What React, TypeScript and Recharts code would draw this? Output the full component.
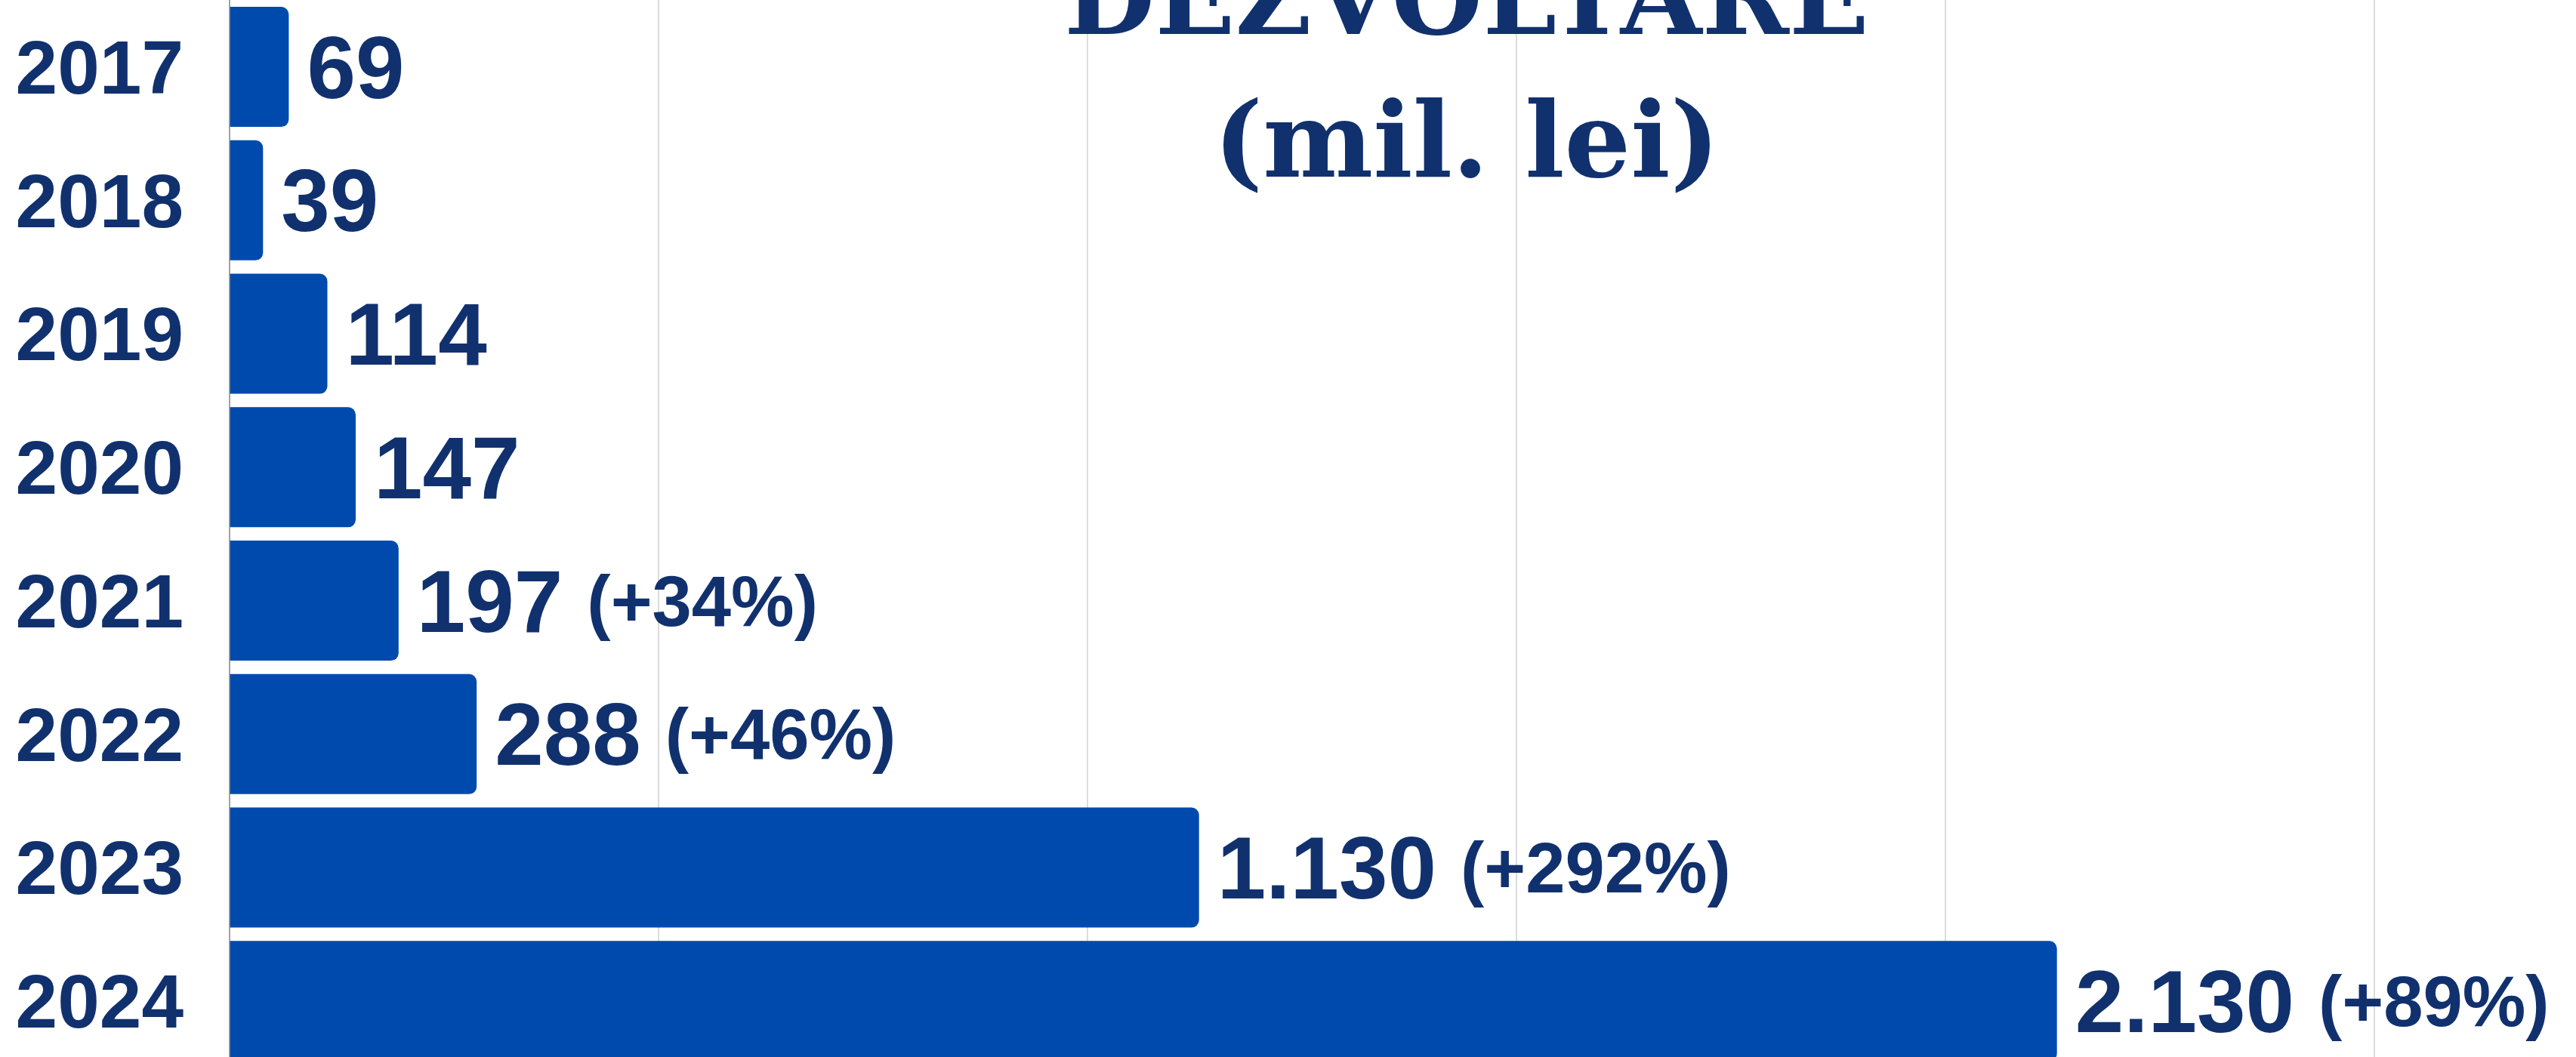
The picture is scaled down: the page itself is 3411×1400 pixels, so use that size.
import React from 'react';
import { BarChart, Bar, XAxis, YAxis, CartesianGrid, LabelList } from 'recharts';

const years = ['2017', '2018', '2019', '2020', '2021', '2022', '2023', '2024'];
const values = [69, 39, 114, 147, 197, 288, 1130, 2130];
const valueLabels = ['69', '39', '114', '147', '197', '288', '1.130', '2.130'];
const growthLabels = ['', '', '', '', '(+34%)', '(+46%)', '(+292%)', '(+89%)'];
const xTicks = [0, 500, 1000, 1500, 2000, 2500];
const titleLines = ['DEZVOLTARE', '(mil. lei)'];

const data = years.map((y, i) => ({ year: y, value: values[i] }));

const NAVY = '#11316e';
const BLUE = '#004aad';
const SANS = '"Liberation Sans", Arial, sans-serif';
const SERIF = '"DejaVu Serif", serif';

const YTick = (props: any) => {
  const { x, y, payload } = props;
  return (
    <text
      x={x}
      y={y}
      dy="0.355em"
      textAnchor="end"
      fill={NAVY}
      fontFamily={SANS}
      fontWeight={700}
      fontSize={100}
    >
      {payload.value}
    </text>
  );
};

const BarLabel = (props: any) => {
  const { x, y, width, height, index } = props;
  const nx = Number(x) + Number(width) + 24;
  const cy = Number(y) + Number(height) / 2;
  const g = growthLabels[index];
  return (
    <text x={nx} y={cy} fill={NAVY} fontFamily={SANS} fontWeight={700}>
      <tspan fontSize={116} dy={41}>
        {valueLabels[index]}
      </tspan>
      {g ? (
        <tspan fontSize={94} dx={32} dy={-8}>
          {g}
        </tspan>
      ) : null}
    </text>
  );
};

export default function App() {
  return (
    <div
      style={{
        position: 'absolute',
        left: 0,
        top: 0,
        width: 3411,
        height: 1400,
        overflow: 'hidden',
        background: '#ffffff',
      }}
    >
      <BarChart
        width={3411}
        height={1414}
        data={data}
        layout="vertical"
        margin={{ top: 0, right: 267, bottom: 0, left: 0 }}
        barCategoryGap="5.15%"
      >
        <CartesianGrid horizontal={false} vertical={true} stroke="#d0d0d0" strokeWidth={1.5} />
        <XAxis type="number" domain={[0, 2500]} ticks={xTicks} hide />
        <YAxis
          type="category"
          dataKey="year"
          width={304}
          axisLine={{ stroke: '#8f8f8f', strokeWidth: 1.5 }}
          tickLine={false}
          tickSize={0}
          tickMargin={61}
          tick={<YTick />}
          interval={0}
        />
        <Bar
          dataKey="value"
          fill={BLUE}
          radius={[0, 10, 10, 0]}
          isAnimationActive={false}
        >
          <LabelList dataKey="value" content={<BarLabel />} />
        </Bar>
      </BarChart>
      <svg
        width={3411}
        height={1400}
        style={{ position: 'absolute', left: 0, top: 0, pointerEvents: 'none' }}
      >
        <text
          x={1942}
          y={45}
          textAnchor="middle"
          fill={NAVY}
          fontFamily={SERIF}
          fontWeight={700}
          fontSize={139}
        >
          {titleLines[0]}
        </text>
        <text
          x={1942}
          y={234}
          textAnchor="middle"
          fill={NAVY}
          fontFamily={SERIF}
          fontWeight={700}
          fontSize={138}
        >
          {titleLines[1]}
        </text>
      </svg>
    </div>
  );
}
